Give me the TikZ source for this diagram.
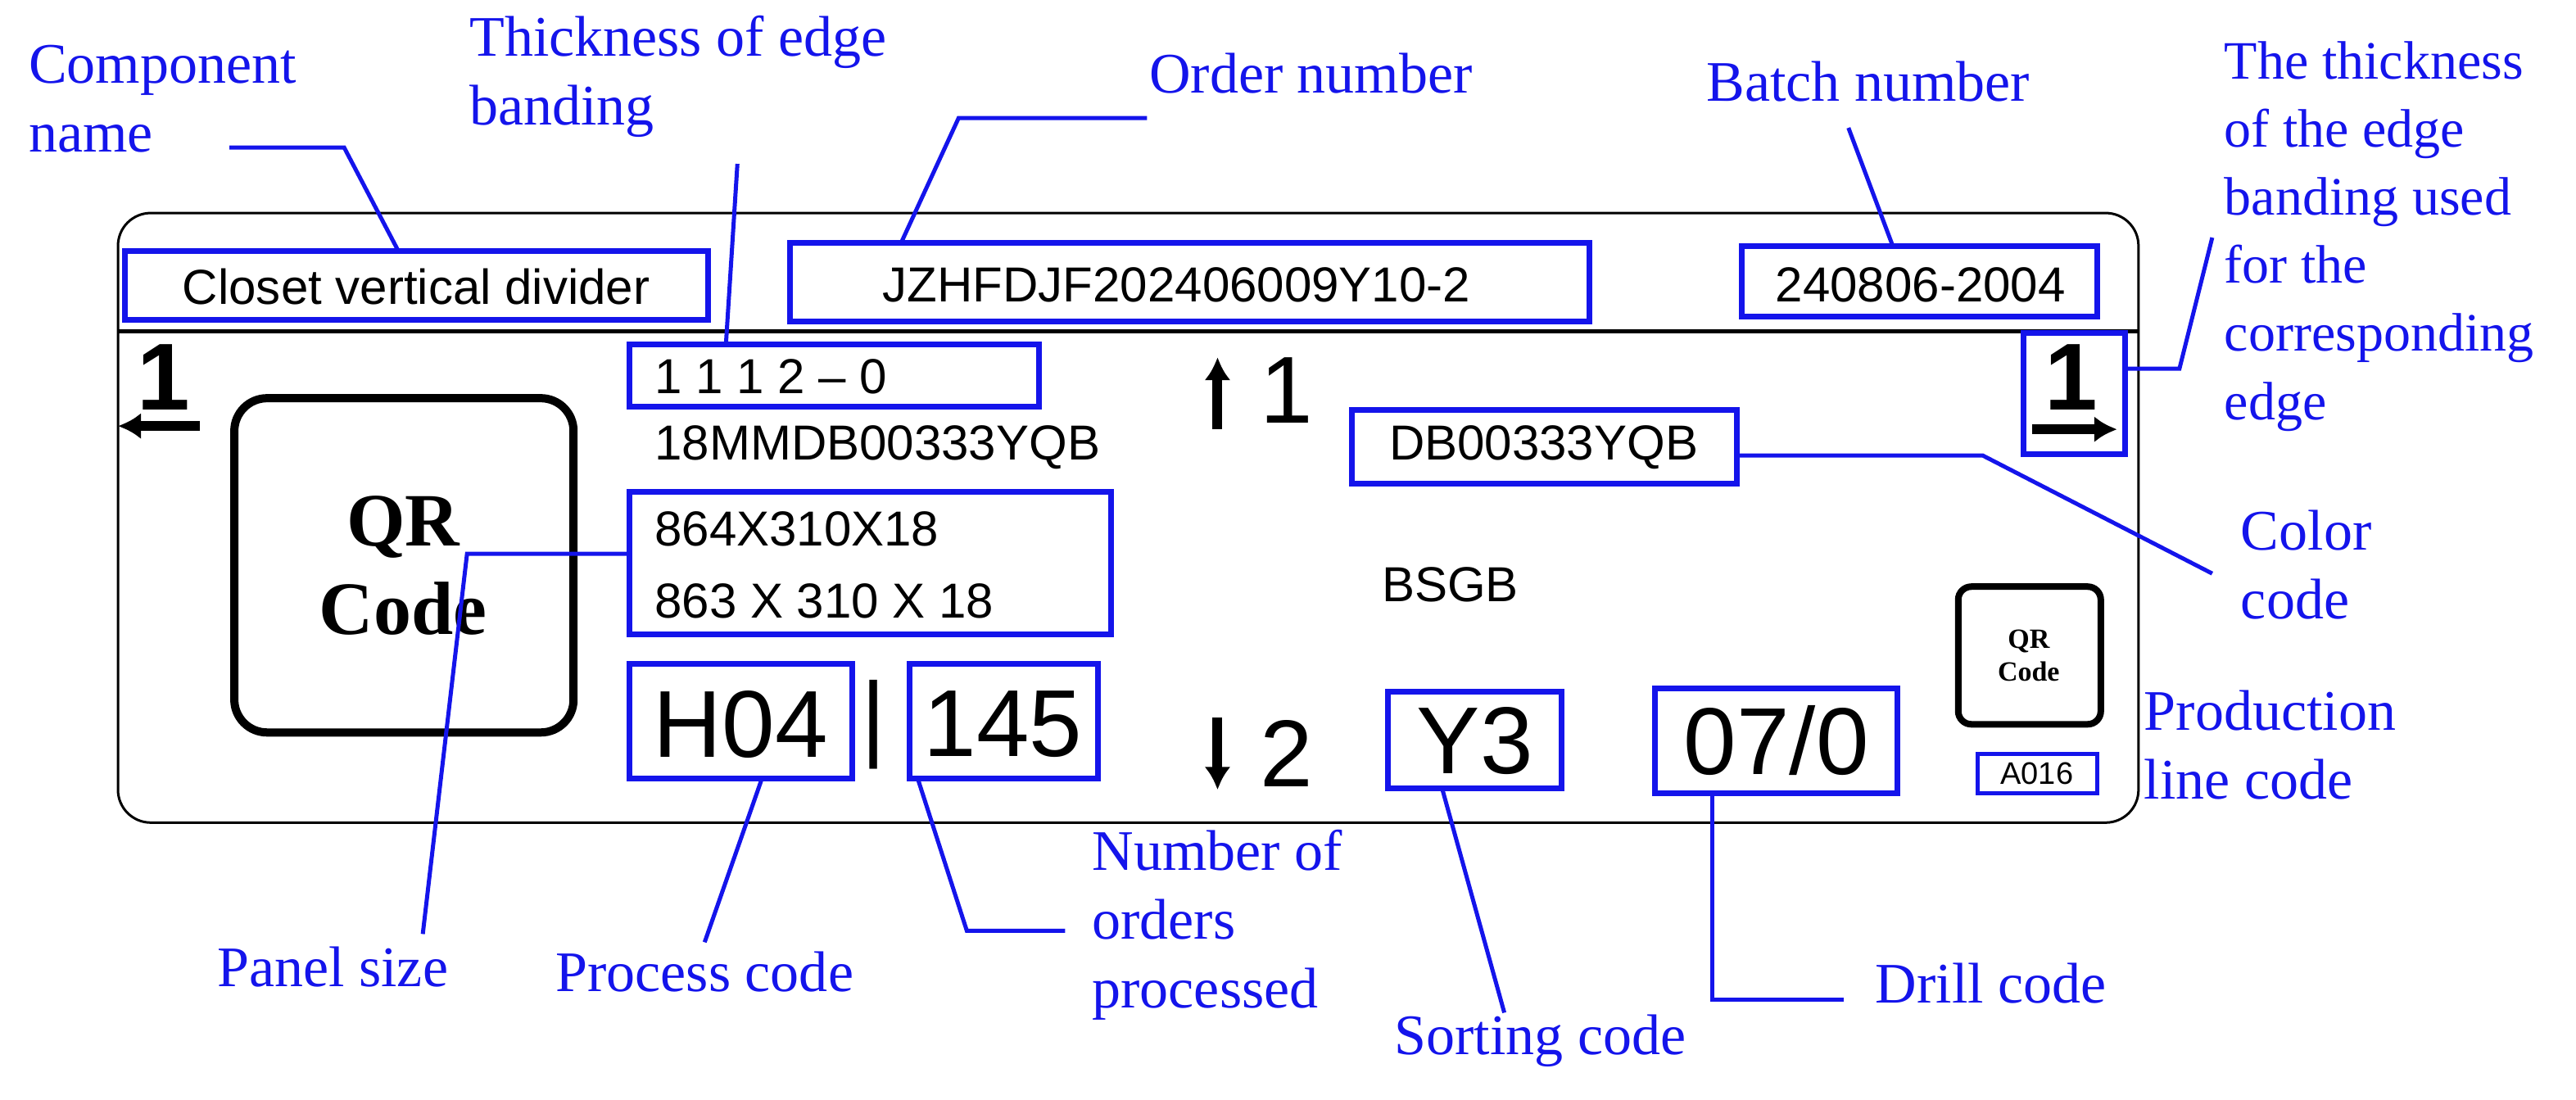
\documentclass[tikz,border=0pt]{standalone}
\usepackage{fontspec}
\usetikzlibrary{arrows.meta}
\setmainfont{Liberation Serif}
\newfontfamily\sans{Liberation Sans}
\definecolor{lb}{RGB}{20,20,235}
\begin{document}
\begin{tikzpicture}[x=1pt,y=-1pt,
  bx/.style={draw=lb,line width=3.5pt,inner sep=0pt},
  ld/.style={draw=lb,line width=2.5pt},
  lab/.style={text=lb,font=\fontsize{35}{42}\selectfont,align=left},
  st/.style={font=\sans\fontsize{30}{44}\selectfont},
  bt/.style={font=\sans\fontsize{58}{58}\selectfont},
  ar/.style={line width=6pt,-{Latex[length=14pt,width=16pt]}}]
\useasboundingbox (0,0) rectangle (1572,671);
\draw[line width=1.5pt,rounded corners=20pt] (72,130) rectangle (1305,502);
\draw[line width=2.5pt] (72,202) -- (1305,202);
% boxes
\draw[bx] (76,153) rectangle (432,195); \node[st] (cn) at (254,175) {Closet vertical divider};
\draw[bx] (482,148) rectangle (970,196); \node[st] (on) at (718,174) {JZHFDJF202406009Y10-2};
\draw[bx] (1063,150) rectangle (1280,193); \node[st] (bn) at (1172,174) {240806-2004};
\draw[bx] (384,210) rectangle (634,248); \node[st,anchor=west] (tk) at (396,230) {1 1 1 2 – 0};
\node[st,anchor=west] (mm) at (396,273) {18MMDB00333YQB};
\draw[bx] (384,300) rectangle (678,387);
\node[st,anchor=west] (p1) at (396,323) {864X310X18};
\node[st,anchor=west] (p2) at (396,367) {863 X 310 X 18};
\draw[line width=5pt,rounded corners=20pt] (143,243) rectangle (350,447);
\node[font=\bfseries\fontsize{46}{54}\selectfont,align=center] (qr) at (246,345) {QR\\Code};
\draw[bx] (384,405) rectangle (520,475); \node[bt] (h) at (452,442) {H04};
\node[bt] (bar) at (533,442) {|};
\draw[bx] (555,405) rectangle (670,475); \node[bt] (n) at (612,442) {145};
\draw[bx] (847,422) rectangle (953,481); \node[bt] (y) at (900,452) {Y3};
\draw[bx] (1010,420) rectangle (1158,484); \node[bt] (d) at (1084,452) {07/0};
\node[bt] (up) at (785,238) {1};
\draw[ar] (743,262) -- (743,218);
\node[bt] (dn) at (785,460) {2};
\draw[ar] (743,438) -- (743,482);
\draw[bx] (825,250) rectangle (1060,295); \node[st] (cc) at (942,273) {DB00333YQB};
\node[st] (bs) at (885,357) {BSGB};
\draw[line width=4pt,rounded corners=8pt] (1195,358) rectangle (1282,442);
\node[font=\bfseries\fontsize{17}{20}\selectfont,align=center] (sq) at (1238,400) {QR\\Code};
\draw[bx,line width=2.5pt] (1207,460) rectangle (1280,484); \node[font=\sans\fontsize{19}{22}\selectfont] (a0) at (1243,472) {A016};
\node[bt,font=\sans\bfseries\fontsize{58}{58}\selectfont] (l1) at (100,230) {1};
\draw[ar] (122,260) -- (72,260);
\draw[bx] (1235,203) rectangle (1297,277); \node[bt,font=\sans\bfseries\fontsize{58}{58}\selectfont] (r1) at (1264,230) {1};
\draw[ar] (1240,262) -- (1292,262);
% labels
\node[lab,anchor=north west] (L1) at (14,24) {Component\\name};
\node[lab,anchor=north west] (L2) at (283,6) {Thickness of edge\\banding};
\node[lab] (L3) at (800,45) {Order number};
\node[lab] (L4) at (1140,50) {Batch number};
\node[lab,anchor=north west,font=\fontsize{33}{41.5}\selectfont] (L5) at (1354,22) {The thickness\\of the edge\\banding used\\for the\\corresponding\\edge};
\node[lab,anchor=north west] (L6) at (1364,308) {Color\\code};
\node[lab,anchor=north west] (L7) at (1305,418) {Production\\line code};
\node[lab] (L8) at (1215,600) {Drill code};
\node[lab] (L9) at (940,635) {Sorting code};
\node[lab,anchor=north west] (L10) at (663,503) {Number of\\orders\\processed};
\node[lab] (L11) at (430,593) {Process code};
\node[lab] (L12) at (203,590) {Panel size};
% leaders
\draw[ld] (140,90) -- (210,90) -- (243,153);
\draw[ld] (450,100) -- (443,210);
\draw[ld] (700,72) -- (585,72) -- (550,148);
\draw[ld] (1128,78) -- (1155,150);
\draw[ld] (1297,225) -- (1330,225) -- (1350,145);
\draw[ld] (1060,278) -- (1210,278) -- (1350,350);
\draw[ld] (1045,484) -- (1045,610) -- (1125,610);
\draw[ld] (880,481) -- (918,618);
\draw[ld] (560,475) -- (590,568) -- (650,568);
\draw[ld] (465,475) -- (430,575);
\draw[ld] (384,338) -- (285,338) -- (258,570);
\end{tikzpicture}
\end{document}
